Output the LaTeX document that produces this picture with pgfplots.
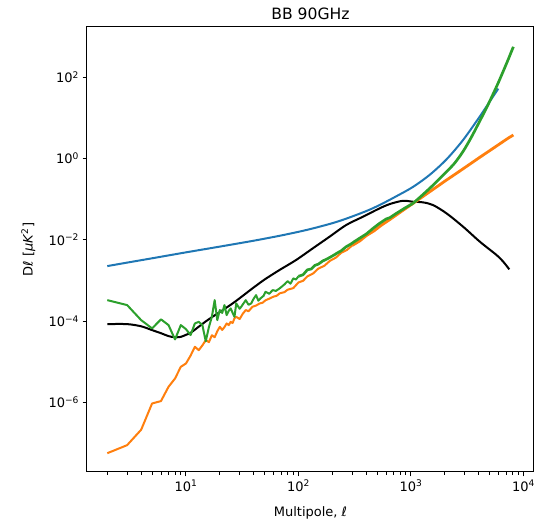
\documentclass[border=0pt]{standalone}
\usepackage{fontspec}
\setmainfont{DejaVu Sans}
\usepackage{pgfplots}
\pgfplotsset{compat=1.18}
\definecolor{mplblue}{HTML}{1F77B4}
\definecolor{mplorange}{HTML}{FF7F0E}
\definecolor{mplgreen}{HTML}{2CA02C}
\begin{document}
\begin{tikzpicture}
\useasboundingbox (-87pt,-49pt) rectangle (457pt,472pt);
\begin{axis}[
  at={(0,0)}, anchor=south west,
  scale only axis, width=447pt, height=445pt,
  xmode=log, ymode=log,
  xmin=1.32, xmax=12400, ymin=1.92e-8, ymax=1730,
  axis line style={line width=1pt},
  tick align=outside, tick pos=left,
  major tick length=4.5pt, minor tick length=2.6pt,
  every major tick/.style={black,line width=1pt},
  every minor tick/.style={black,line width=0.8pt},
  xtick={10,100,1000,10000},
  xticklabels={10\textsuperscript{1},10\textsuperscript{2},10\textsuperscript{3},10\textsuperscript{4}},
  minor xtick={2,3,4,5,6,7,8,9,20,30,40,50,60,70,80,90,200,300,400,500,600,700,800,900,2000,3000,4000,5000,6000,7000,8000,9000},
  ytick={1e-6,1e-4,1e-2,1,100},
  yticklabels={10\textsuperscript{−6},10\textsuperscript{−4},10\textsuperscript{−2},10\textsuperscript{0},10\textsuperscript{2}},
  minor ytick={},
  tick label style={font=\fontsize{13}{15}\selectfont},
  title={BB 90GHz},
  title style={at={(axis description cs:0.5,1.0038)},anchor=base,font=\fontsize{15.6}{18}\selectfont},
  xlabel={Multipole, \textit{ℓ}},
  xlabel style={at={(axis description cs:0.5,-0.1)},anchor=base,font=\fontsize{13}{15}\selectfont},
  ylabel={D\textit{ℓ} [\textit{μK}\textsuperscript{2}]},
  ylabel style={at={(axis description cs:-0.1219,0.5)},anchor=base,font=\fontsize{13}{15}\selectfont},
  every axis plot/.append style={line width=2pt, line join=round},
]
% black
\addplot[black, smooth] coordinates {
(2,8.39e-5)(3,8.39e-5)(4,7.41e-5)(5,5.97e-5)(6,5.01e-5)(7,4.25e-5)(8,3.98e-5)(9,4.07e-5)
(10,4.57e-5)(11,5.13e-5)(13,7.24e-5)(15,9.77e-5)(17.2,1.27e-4)(20,1.66e-4)(26,2.71e-4)
(32,4.17e-4)(39,6.35e-4)(50,1.05e-3)(67.6,1.79e-3)(95,3.16e-3)(134,6.14e-3)(189,1.19e-2)
(265,2.30e-2)(374,3.69e-2)(526,5.93e-2)(647,7.57e-2)(849,9.12e-2)(1042,8.63e-2)(1279,8.34e-2)
(1570,7.16e-2)(2070,4.47e-2)(2911,2.09e-2)(4102,8.93e-3)(5768,4.20e-3)(6622,2.87e-3)(7480,1.87e-3)
};
% blue
\addplot[mplblue, smooth] coordinates {
(2,2.25e-3)(3,2.74e-3)(5,3.50e-3)(10,4.90e-3)(20,6.79e-3)(40,9.48e-3)(67.6,1.25e-2)
(100,1.57e-2)(134,1.90e-2)(200,2.56e-2)(265,3.30e-2)(400,5.08e-2)(526,7.16e-2)(742,0.118)
(1042,0.200)(1469,0.398)(2070,0.955)(2911,2.88)(4102,10.96)(5035,25.7)(5970,52.5)
};
% orange, low multipoles
\addplot[mplorange] coordinates {
(2,5.57e-8)(3,8.79e-8)(4,2.11e-7)(5,9.33e-7)(6,1.07e-6)(7,2.40e-6)(8,3.85e-6)(9,7.45e-6)
(10,9.0e-6)(11,1.41e-5)(12,2.32e-5)(13,1.92e-5)(14,2.51e-5)(15,3.39e-5)(16,3.02e-5)(17,4.47e-5)
(18,3.98e-5)(19,5.62e-5)(20,7.19e-5)(21,6.03e-5)(22,7.08e-5)(23,8.71e-5)(24,7.94e-5)(25,9.55e-5)
(26,8.91e-5)(27,1.17e-4)(28,1.27e-4)(30,1.12e-4)(32,1.51e-4)(34,1.86e-4)(36,1.74e-4)(39,2.24e-4)
(42,2.40e-4)(45,2.69e-4)(48,2.82e-4)(51,3.24e-4)(55,3.55e-4)(60,3.98e-4)(64,4.17e-4)(68,4.79e-4)
(75,5.13e-4)(80,5.89e-4)(90,6.46e-4)(100,8.91e-4)(110,9.77e-4)(120,1.26e-3)(135,1.48e-3)
(150,1.95e-3)(170,2.29e-3)(190,3.02e-3)(215,3.63e-3)(240,4.79e-3)(270,5.62e-3)(300,7.24e-3)
};
% orange, high multipoles
\addplot[mplorange, line width=2.8pt] coordinates {
(300,7.24e-3)(350,9.33e-3)(400,1.26e-2)(470,1.66e-2)(550,2.32e-2)(650,3.16e-2)(750,4.17e-2)(870,5.56e-2)
(1000,7.26e-2)(1200,0.103)(1400,0.139)(1700,0.202)(2000,0.277)(2400,0.390)(2800,0.521)
(3400,0.753)(4000,1.028)(4800,1.445)(5500,1.862)(6500,2.547)(7300,3.162)(8130,3.793)
};
% green, low multipoles
\addplot[mplgreen] coordinates {
(2,3.27e-4)(3,2.47e-4)(4,1.05e-4)(5,6.58e-5)(6,1.10e-4)(7,7.94e-5)(8,3.52e-5)(9,7.94e-5)
(10,6.31e-5)(11,4.50e-5)(12,8.71e-5)(13,9.55e-5)(14,7.94e-5)(15,3.16e-5)(16,7.08e-5)(17,1.27e-4)
(18,3.27e-4)(19,1.05e-4)(20,1.86e-4)(21,1.58e-4)(22,2.47e-4)(23,1.40e-4)(24,1.78e-4)(25,2.04e-4)
(26,1.58e-4)(27,1.27e-4)(28,2.71e-4)(30,2.00e-4)(31,2.24e-4)(34,3.27e-4)(36,2.51e-4)(38,2.71e-4)
(40,3.55e-4)(42,4.35e-4)(44,3.16e-4)(46,3.61e-4)(49,4.17e-4)(51,5.25e-4)(55,4.68e-4)(59,5.77e-4)
(63,5.50e-4)(68,6.35e-4)(75,7.94e-4)(80,9.55e-4)(85,8.32e-4)(90,1.12e-3)(95,1.05e-3)(100,1.26e-3)
};
% green, mid multipoles
\addplot[mplgreen, line width=2.7pt] coordinates {
(100,1.26e-3)(110,1.38e-3)(120,1.82e-3)(130,1.91e-3)(140,2.34e-3)(150,2.51e-3)(165,3.02e-3)(180,3.39e-3)
(200,3.98e-3)(220,4.68e-3)(240,5.37e-3)(265,6.73e-3)(290,7.76e-3)(320,9.33e-3)(360,1.15e-2)
(400,1.38e-2)(460,1.91e-2)(526,2.54e-2)(600,3.24e-2)(650,3.51e-2)(742,4.47e-2)(870,5.89e-2)
(1042,7.87e-2)
};
% green, high multipoles
\addplot[mplgreen, line width=2.7pt, smooth] coordinates {
(1042,7.87e-2)(1200,0.111)(1469,0.185)(1750,0.296)(2070,0.473)(2450,0.776)(2911,1.51)
(3450,3.39)(4102,8.51)(4700,17.8)(5395,39.8)(6000,75.7)(6622,142.9)(7350,283)(8128,564)
};
\end{axis}
\end{tikzpicture}
\end{document}
